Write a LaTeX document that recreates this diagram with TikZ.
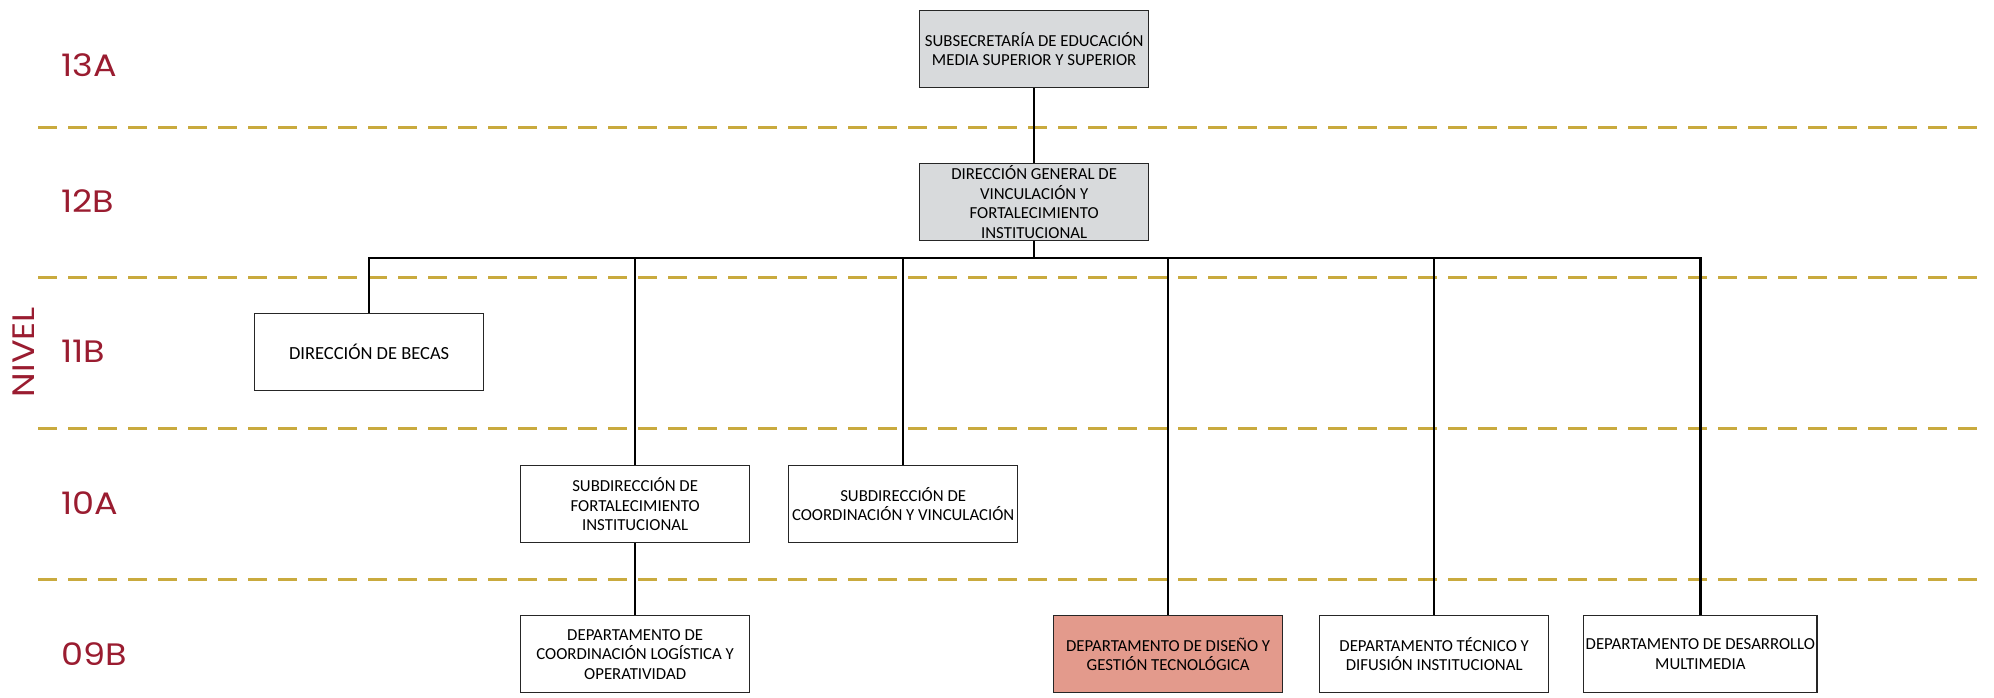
\documentclass[tikz,border=0pt]{standalone}
\usepackage{fontspec}
\setmainfont{Carlito}
\newfontfamily\lvlfont[FakeStretch=1.13]{Poppins}
\definecolor{lvlred}{HTML}{9A1C30}
\definecolor{gold}{HTML}{C9AA3E}
\definecolor{boxgray}{HTML}{D8DADC}
\definecolor{salmon}{HTML}{E39A8C}
\begin{document}
\begin{tikzpicture}[x=1pt,y=-1pt,
  box/.style={draw=black!85, line width=1.3pt, minimum width=229pt, minimum height=77pt,
    inner sep=2pt, align=center, font=\fontsize{16.8}{19.5}\selectfont, anchor=north west},
  graybox/.style={box, fill=boxgray},
  redbox/.style={box, fill=salmon},
  conn/.style={draw=black, line width=2.3pt},
  lvldash/.style={draw=gold, line width=3pt, dash pattern=on 19pt off 11pt},
  lvl/.style={text=lvlred, font=\lvlfont\fontsize{31}{31}\selectfont, inner sep=0pt}
]
\useasboundingbox[fill=white] (0,0) rectangle (1994,697);

% level separators
\foreach \yy in {127,277,428,579}
  \draw[lvldash] (38,\yy) -- (1980,\yy);

% level labels
\node[lvl, anchor=west] (l13) at (61,65) {13A};
\node[lvl, anchor=west] (l12) at (61,201) {12B};
\node[lvl, anchor=west] (l11) at (61,351) {11B};
\node[lvl, anchor=west] (l10) at (61,503) {10A};
\node[lvl, anchor=west] (l09) at (61,654) {09B};
\node[lvl, rotate=90] (nivel) at (24,352) {NIVEL};

% boxes
\node[graybox] (sub) at (919,10) {SUBSECRETARÍA DE EDUCACIÓN\\MEDIA SUPERIOR Y SUPERIOR};
\node[graybox] (dg) at (919,163) {DIRECCIÓN GENERAL DE\\VINCULACIÓN Y\\FORTALECIMIENTO\\INSTITUCIONAL};
\node[box, font=\fontsize{18.5}{21}\selectfont] (becas) at (254,313) {DIRECCIÓN DE BECAS};
\node[box] (sfi) at (520,465) {SUBDIRECCIÓN DE\\FORTALECIMIENTO\\INSTITUCIONAL};
\node[box] (scv) at (788,465) {SUBDIRECCIÓN DE\\COORDINACIÓN Y VINCULACIÓN};
\node[box] (dcl) at (520,615) {DEPARTAMENTO DE\\COORDINACIÓN LOGÍSTICA Y\\OPERATIVIDAD};
\node[redbox] (ddg) at (1053,615) {DEPARTAMENTO DE DISEÑO Y\\GESTIÓN TECNOLÓGICA};
\node[box] (dti) at (1319,615) {DEPARTAMENTO TÉCNICO Y\\DIFUSIÓN INSTITUCIONAL};
\node[box] (ddm) at (1583,615) {DEPARTAMENTO DE DESARROLLO\\MULTIMEDIA};

% connectors
\draw[conn] (sub) -- (dg);
\path (dg.south) ++(0,17) coordinate (bus);
\draw[conn] (dg.south) -- (bus);
\foreach \n in {becas,sfi,scv,ddg,dti,ddm}
  \draw[conn] (bus) -| (\n.north);
\draw[conn] (sfi) -- (dcl);
\end{tikzpicture}
\end{document}
